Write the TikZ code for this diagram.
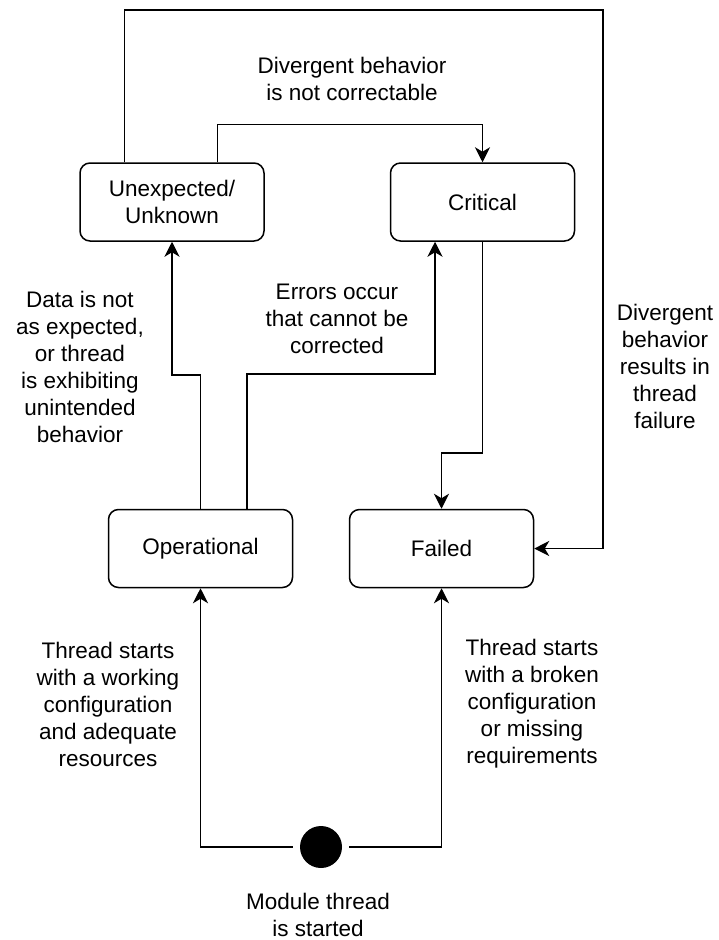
\documentclass[tikz,border=0pt]{standalone}
\usepackage{fontspec}
\setmainfont{Liberation Sans}
\usetikzlibrary{arrows.meta,calc}

\tikzset{
  statebox/.style={draw=black, line width=1.5pt, rounded corners=10pt,
    minimum width=184pt, minimum height=78pt, inner sep=0pt, align=center,
    font=\fontsize{22.5}{27}\selectfont},
  lbl/.style={align=center, inner sep=0pt, font=\fontsize{22.5}{27}\selectfont},
  conn/.style={draw=black, line width=1.5pt,
    -{Stealth[length=15pt, width=15pt, inset=4.5pt]}},
  startdot/.style={circle, fill=black, minimum size=42pt, inner sep=0pt}
}

\begin{document}
\begin{tikzpicture}[x=1pt, y=-1pt]
  \useasboundingbox (0,0) rectangle (718,940);

  % states
  \node[statebox] (unk)  at (172,202)   {Unexpected/\\Unknown};
  \node[statebox] (crit) at (482.5,202) {Critical};
  \node[statebox] (op)   at (200.5,548.5) {Operational};
  \node[statebox] (fail) at (441.5,548.5) {Failed};
  \node[startdot] (start) at (321,847) {};

  % corner of the outer loop
  \coordinate (loopcorner) at (603,10);

  % transitions
  \draw[conn] ($(unk.north west)+(45,0)$) |- (loopcorner) |- (fail.east);
  \draw[conn] ($(unk.north west)+(138,0)$) -- ++(0,-38) -| (crit.north);
  \draw[conn] (op.north) -- ++(0,-134) -| (unk.south);
  \draw[conn] ($(op.north)+(46.5,0)$) -- ++(0,-135) -| ($(crit.south)+(-47.5,0)$);
  \draw[conn] (crit.south) -- ++(0,211) -| (fail.north);
  \draw[conn] ($(start.west)+(-7,0)$) -| (op.south);
  \draw[conn] ($(start.east)+(7,0)$) -| (fail.south);

  % labels
  \node[lbl] (l1) at (352,78.5) {Divergent behavior\\is not correctable};
  \node[lbl] (l2) at (80,366.5) {Data is not\\as expected,\\or thread\\is exhibiting\\unintended\\behavior};
  \node[lbl] (l3) at (337,318.5) {Errors occur\\that cannot be\\corrected};
  \node[lbl] (l4) at (665,366.5) {Divergent\\behavior\\results in\\thread\\failure};
  \node[lbl] (l5) at (108,704) {Thread starts\\with a working\\configuration\\and adequate\\resources};
  \node[lbl] (l6) at (532,704) {Thread starts\\with a broken\\configuration\\or missing\\requirements};
  \node[lbl] (l7) at (318,915) {Module thread\\is started};
\end{tikzpicture}
\end{document}
